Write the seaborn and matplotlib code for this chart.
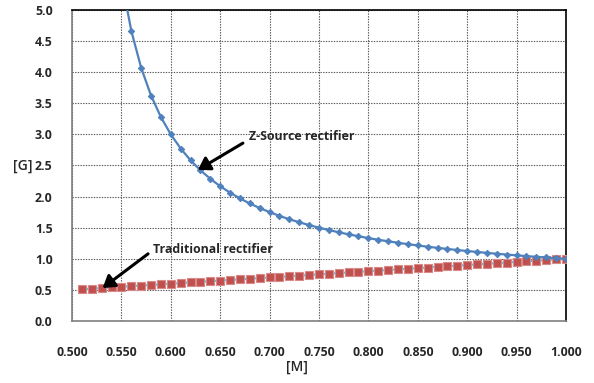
import matplotlib
matplotlib.use("Agg")
import matplotlib.pyplot as plt
import seaborn as sns
import pandas as pd

# Modulation index M and voltage gain G of each rectifier
z_source_m = [0.55, 0.56, 0.57, 0.58, 0.59, 0.60, 0.61, 0.62, 0.63, 0.64,
              0.65, 0.66, 0.67, 0.68, 0.69, 0.70, 0.71, 0.72, 0.73, 0.74,
              0.75, 0.76, 0.77, 0.78, 0.79, 0.80, 0.81, 0.82, 0.83, 0.84,
              0.85, 0.86, 0.87, 0.88, 0.89, 0.90, 0.91, 0.92, 0.93, 0.94,
              0.95, 0.96, 0.97, 0.98, 0.99, 1.00]
z_source_g = [5.500, 4.667, 4.071, 3.625, 3.278, 3.000, 2.773, 2.583, 2.423, 2.286,
              2.167, 2.063, 1.971, 1.889, 1.816, 1.750, 1.690, 1.636, 1.587, 1.542,
              1.500, 1.462, 1.426, 1.393, 1.362, 1.333, 1.306, 1.281, 1.258, 1.235,
              1.214, 1.194, 1.176, 1.158, 1.141, 1.125, 1.110, 1.095, 1.081, 1.068,
              1.056, 1.043, 1.032, 1.021, 1.010, 1.000]

traditional_m = [0.51, 0.52, 0.53, 0.54, 0.55, 0.56, 0.57, 0.58, 0.59, 0.60,
                 0.61, 0.62, 0.63, 0.64, 0.65, 0.66, 0.67, 0.68, 0.69, 0.70,
                 0.71, 0.72, 0.73, 0.74, 0.75, 0.76, 0.77, 0.78, 0.79, 0.80,
                 0.81, 0.82, 0.83, 0.84, 0.85, 0.86, 0.87, 0.88, 0.89, 0.90,
                 0.91, 0.92, 0.93, 0.94, 0.95, 0.96, 0.97, 0.98, 0.99, 1.00]
traditional_g = [0.51, 0.52, 0.53, 0.54, 0.55, 0.56, 0.57, 0.58, 0.59, 0.60,
                 0.61, 0.62, 0.63, 0.64, 0.65, 0.66, 0.67, 0.68, 0.69, 0.70,
                 0.71, 0.72, 0.73, 0.74, 0.75, 0.76, 0.77, 0.78, 0.79, 0.80,
                 0.81, 0.82, 0.83, 0.84, 0.85, 0.86, 0.87, 0.88, 0.89, 0.90,
                 0.91, 0.92, 0.93, 0.94, 0.95, 0.96, 0.97, 0.98, 0.99, 1.00]

x_ticks = [0.50, 0.55, 0.60, 0.65, 0.70, 0.75, 0.80, 0.85, 0.90, 0.95, 1.00]
y_ticks = [0.0, 0.5, 1.0, 1.5, 2.0, 2.5, 3.0, 3.5, 4.0, 4.5, 5.0]

sns.set_style("white")
plt.rcParams["font.family"] = ["Open Sans", "DejaVu Sans"]

z_df = pd.DataFrame({"M": z_source_m, "G": z_source_g})
t_df = pd.DataFrame({"M": traditional_m, "G": traditional_g})

fig = plt.figure(figsize=(5.94, 3.83), dpi=100)
ax = fig.add_axes([0.1212, 0.1619, 0.8316, 0.812])

sns.lineplot(data=t_df, x="M", y="G", ax=ax, color="#4BC3EA", linewidth=1.6,
             marker="s", markersize=5.2, markerfacecolor="#C0504D",
             markeredgecolor="#D98A88", markeredgewidth=0.8, zorder=3)
sns.lineplot(data=z_df, x="M", y="G", ax=ax, color="#4F81BD", linewidth=1.6,
             marker="D", markersize=3.2, markerfacecolor="#4F81BD",
             markeredgecolor="#4F81BD", zorder=4)

ax.set_xlim(0.5, 1.0)
ax.set_ylim(0.0, 5.0)
ax.set_xticks(x_ticks)
ax.set_yticks(y_ticks)
ax.set_xticklabels([f"{v:.3f}" for v in x_ticks], fontsize=8.8, fontweight="bold")
ax.set_yticklabels([f"{v:.1f}" for v in y_ticks], fontsize=8.8, fontweight="bold")
ax.tick_params(axis="both", length=0)
ax.tick_params(axis="x", pad=18)
ax.tick_params(axis="y", pad=14)
ax.set_xlabel("")
ax.set_ylabel("")

ax.grid(True, color="#555555", linestyle=(0, (1.2, 1.2)), linewidth=0.8)
ax.set_axisbelow(True)
for side in ["top", "right"]:
    ax.spines[side].set_color("#000000")
    ax.spines[side].set_linewidth(1.2)
for side in ["left", "bottom"]:
    ax.spines[side].set_color("#808080")
    ax.spines[side].set_linewidth(1.2)

arrow_style = dict(arrowstyle="-|>,head_length=0.7,head_width=0.45",
                   color="black", linewidth=2.2, shrinkA=0, shrinkB=0)
ax.annotate("", xy=(0.6275, 2.43), xytext=(0.673, 2.86), arrowprops=arrow_style,
            zorder=6)
ax.text(0.679, 2.97, "Z-Source rectifier", fontsize=8.9, fontweight="bold",
        ha="left", va="center", zorder=6)
ax.annotate("", xy=(0.531, 0.53), xytext=(0.577, 1.08), arrowprops=arrow_style,
            zorder=6)
ax.text(0.582, 1.15, "Traditional rectifier", fontsize=8.9, fontweight="bold",
        ha="left", va="center", zorder=6)

fig.text(23 / 594, 1 - 166 / 383, "[G]", fontsize=10, fontweight="semibold",
         ha="center", va="center")
fig.text(297 / 594, 1 - 367 / 383, "[M]", fontsize=10, fontweight="semibold",
         ha="center", va="center")

fig.savefig("out.png", dpi=100)
